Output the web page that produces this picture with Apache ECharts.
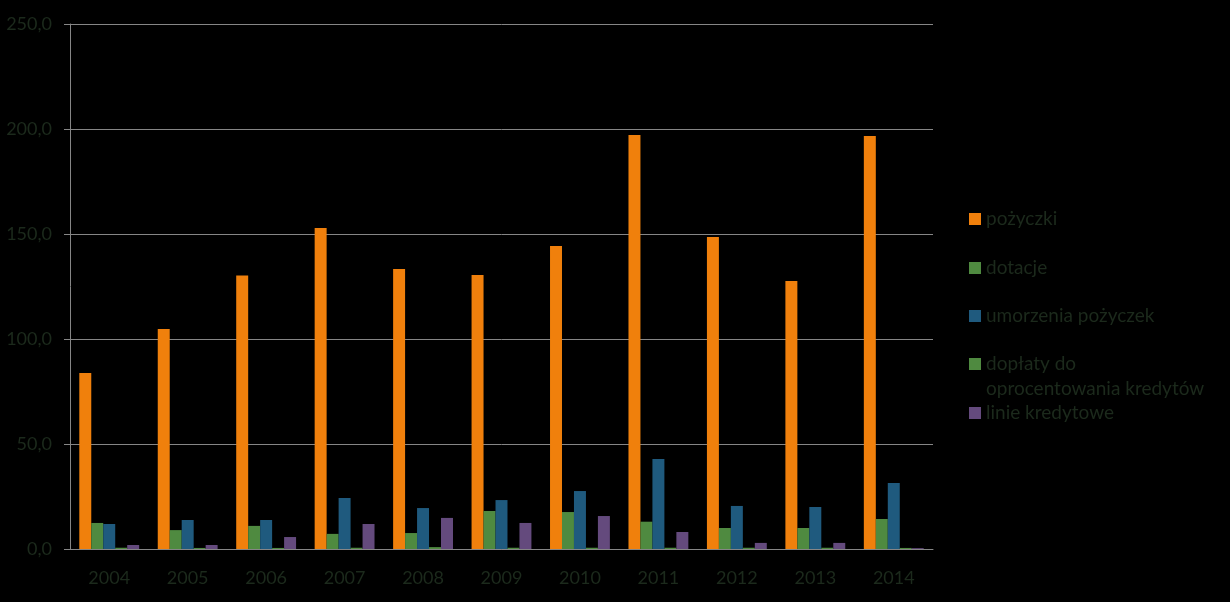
<!DOCTYPE html>
<html>
<head>
<meta charset="utf-8">
<script src="https://cdn.jsdelivr.net/npm/echarts@6/dist/echarts.min.js"></script>
<style>
html,body{margin:0;padding:0;background:#000;}
#chart{width:1230px;height:602px;}
</style>
</head>
<body>
<div id="chart"></div>
<script>
const years = ['2004','2005','2006','2007','2008','2009','2010','2011','2012','2013','2014'];
const seriesNames = ['pożyczki','dotacje','umorzenia pożyczek','dopłaty do oprocentowania kredytów','linie kredytowe'];
const pozyczki = [83.8,104.8,130.2,152.9,133.3,130.5,144.3,197.1,148.6,127.6,196.7];
const dotacje = [12.4,9.0,11.0,7.2,7.6,18.1,17.6,13.0,10.0,10.0,14.3];
const umorzenia = [11.9,13.8,13.8,24.3,19.5,23.3,27.6,42.9,20.5,20.0,31.4];
const doplaty = [0.6,0.5,0.5,0.6,0.9,0.6,0.6,0.6,0.6,0.6,0.5];
const linie = [1.9,1.9,5.7,11.9,14.8,12.4,15.7,8.1,2.9,2.9,0.4];
const yTicks = {min:0, max:250, interval:50};

const colors = ['#F0800C','#4F8A40','#1F5A7E','#4F8A40','#644A7D'];
const textColor = '#1c2a1c';
const gray = '#868686';
const font = 'Lato';
const legendFont = 19;

const dataArr = [pozyczki,dotacje,umorzenia,doplaty,linie];
const legendCenters = [219,268,316,364,413];

const chart = echarts.init(document.getElementById('chart'));
chart.setOption({
  backgroundColor:'#000',
  animation:false,
  color: colors,
  grid:{left:70,right:297,top:24,bottom:53},
  legend: seriesNames.map((n,i)=>({
    data:[n],
    left:969,
    top: legendCenters[i]-legendFont/2,
    padding:0,
    itemWidth:12,
    itemHeight:12,
    itemGap:0,
    icon:'rect',
    formatter: i===3 ? 'dopłaty do' : '{name}',
    textStyle:{color:textColor,fontFamily:font,fontSize:legendFont}
  })),
  graphic:[{
    type:'text',
    left:986,
    top:389-legendFont/2,
    silent:true,
    style:{text:'oprocentowania kredytów',fill:textColor,font:legendFont+'px '+font}
  }],
  xAxis:{
    type:'category',
    data:years,
    axisLine:{lineStyle:{color:gray,width:1}},
    axisTick:{length:7,lineStyle:{color:gray}},
    axisLabel:{color:textColor,fontFamily:font,fontSize:18,margin:20}
  },
  yAxis:{
    type:'value',
    min:yTicks.min,max:yTicks.max,interval:yTicks.interval,
    axisLine:{show:true,lineStyle:{color:gray,width:1}},
    axisTick:{show:true,length:6,lineStyle:{color:gray}},
    splitLine:{lineStyle:{color:gray,width:1}},
    axisLabel:{color:textColor,fontFamily:font,fontSize:18,margin:18,
      formatter:v=>v.toFixed(1).replace('.',',')}
  },
  series: seriesNames.map((n,i)=>({
    name:n,
    type:'bar',
    data:dataArr[i],
    barGap:'0%',
    barCategoryGap:'23.7%',
    itemStyle:{color:colors[i]}
  }))
});
</script>
</body>
</html>
